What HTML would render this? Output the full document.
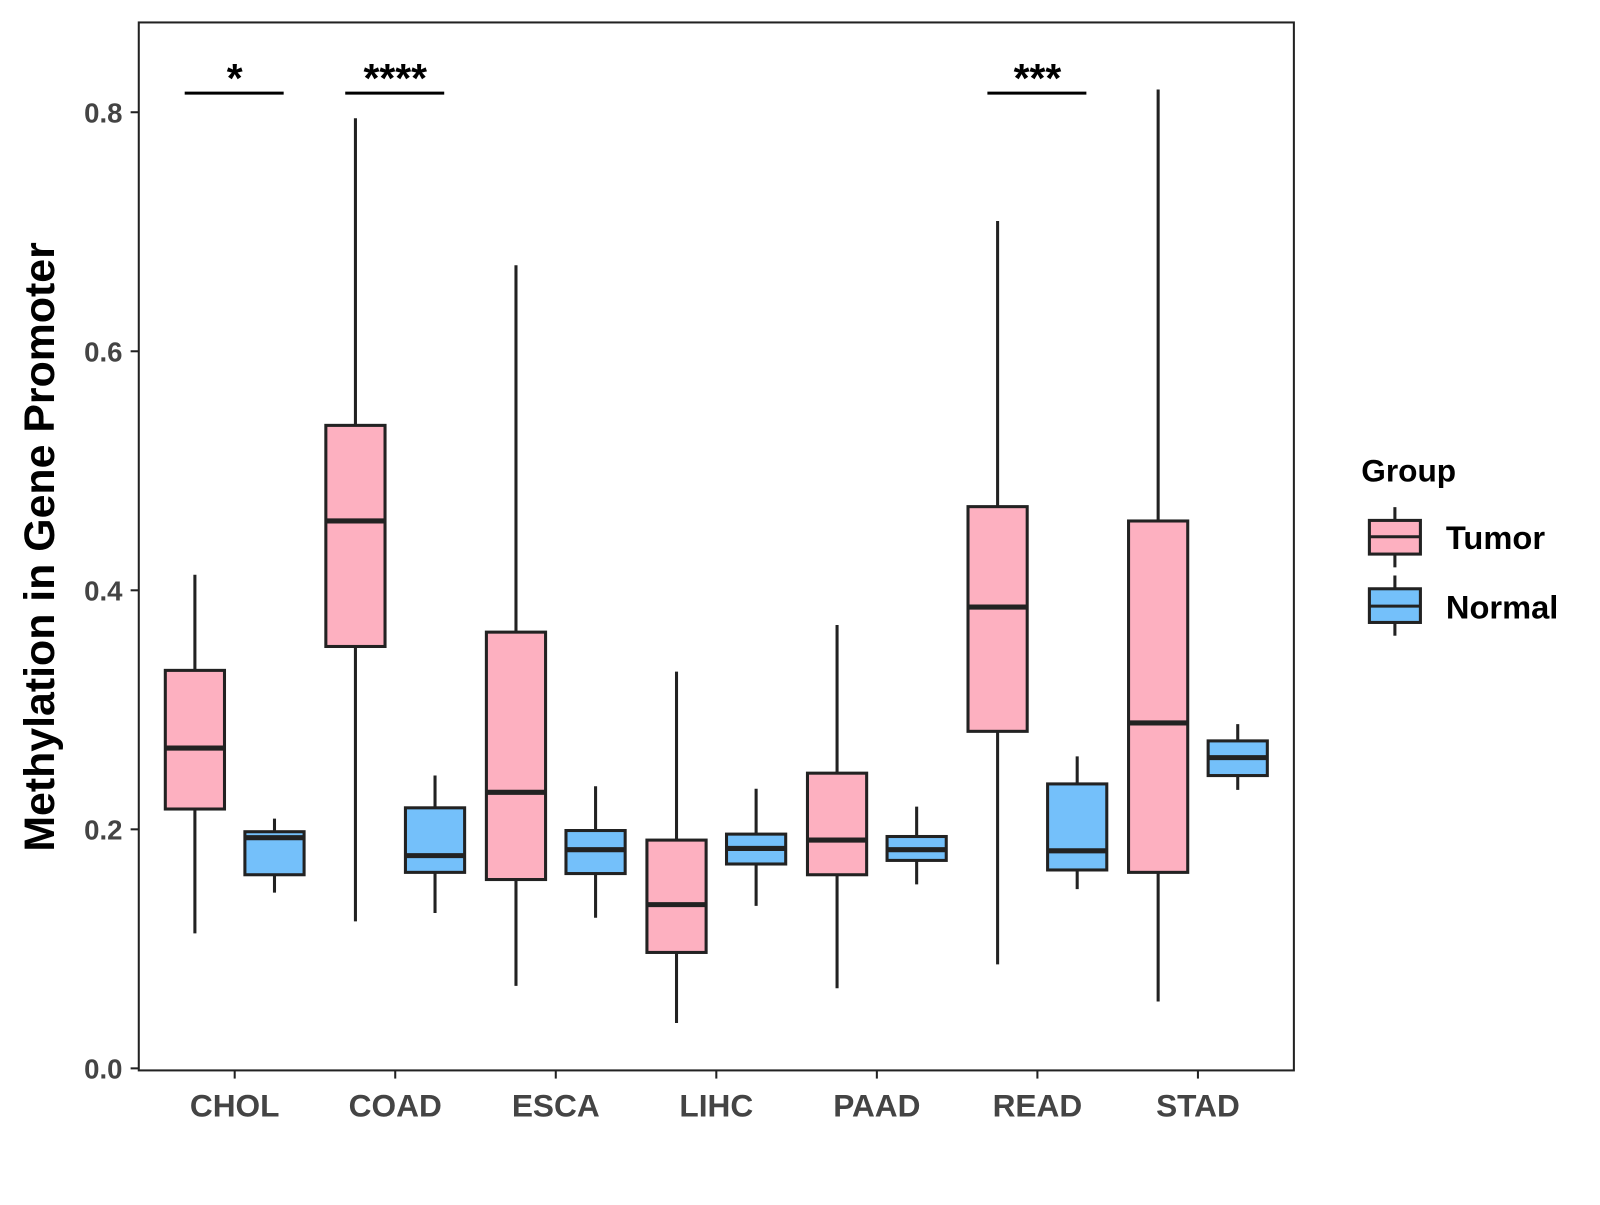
<!DOCTYPE html>
<html><head><meta charset="utf-8"><style>
body{margin:0;background:#fff}
svg text{font-family:"Liberation Sans",Arial,sans-serif;font-weight:bold}
</style></head><body>
<svg id="chart" width="1600" height="1200" viewBox="0 0 1568 1176">
<rect x="136" y="22" width="1132" height="1027" fill="#fff" stroke="#222" stroke-width="2"/>
<g id="axes"></g><g id="boxes"></g><g id="sig"></g>
<text x="53" y="536" font-size="42" text-anchor="middle" transform="rotate(-90 53 536)" fill="#000">Methylation in Gene Promoter</text>
<g>
<text x="1334" y="472" font-size="31" fill="#000">Group</text>
<g>
<line x1="1367" y1="497" x2="1367" y2="556" stroke="#222" stroke-width="3"/>
<rect x="1342" y="510" width="50" height="33" fill="#FDB0C0" stroke="#222" stroke-width="3"/>
<line x1="1342" y1="526" x2="1392" y2="526" stroke="#222" stroke-width="3"/>
<text x="1417" y="538" font-size="32" fill="#000">Tumor</text></g>
<g>
<line x1="1367" y1="564" x2="1367" y2="623" stroke="#222" stroke-width="3"/>
<rect x="1342" y="577" width="50" height="33" fill="#74C0FA" stroke="#222" stroke-width="3"/>
<line x1="1342" y1="594" x2="1392" y2="594" stroke="#222" stroke-width="3"/>
<text x="1417" y="606" font-size="32" fill="#000">Normal</text></g>
</g>
</svg>
<script>
const categories=["CHOL","COAD","ESCA","LIHC","PAAD","READ","STAD"];
const tumorStats=[[0.113,0.217,0.268,0.333,0.413],[0.123,0.353,0.458,0.538,0.795],[0.069,0.158,0.231,0.365,0.672],[0.038,0.097,0.137,0.191,0.332],[0.067,0.162,0.191,0.247,0.371],[0.087,0.282,0.386,0.470,0.709],[0.056,0.164,0.289,0.458,0.819]];
const normalStats=[[0.147,0.162,0.193,0.198,0.209],[0.130,0.164,0.178,0.218,0.245],[0.126,0.163,0.183,0.199,0.236],[0.136,0.171,0.184,0.196,0.234],[0.154,0.174,0.183,0.194,0.219],[0.150,0.166,0.182,0.238,0.261],[0.233,0.245,0.260,0.274,0.288]];
const yTicks=[0,0.2,0.4,0.6,0.8];
const yTickLabels=["0.0","0.2","0.4","0.6","0.8"];
const sigCats=["CHOL","COAD","READ"];
const sigLabels=["*","****","***"];
const sigLevel=0.816;
const NS="http://www.w3.org/2000/svg";
const y=v=>1047-v*1171.25;
const x=i=>230+i*157.33;
function mk(tag,attrs,parent,txt){const e=document.createElementNS(NS,tag);for(const k in attrs)e.setAttribute(k,attrs[k]);if(txt!==undefined)e.textContent=txt;parent.appendChild(e);return e;}
const axes=document.getElementById('axes');
yTicks.forEach((t,i)=>{
 const g=mk('g',{},axes);
 
 
 mk('line',{x1:128,x2:136,y1:y(t),y2:y(t),stroke:'#222','stroke-width':2},g);
 mk('text',{x:120,y:y(t)+10,'font-size':27,'text-anchor':'end',fill:'#444'},g,yTickLabels[i]);
});
categories.forEach((c,i)=>{
 const g=mk('g',{},axes);
 
 
 mk('line',{x1:x(i),x2:x(i),y1:1049,y2:1057,stroke:'#222','stroke-width':2},g);
 mk('text',{x:x(i),y:1094,'font-size':31,'text-anchor':'middle',fill:'#444'},g,c);
});
const boxes=document.getElementById('boxes');
function box(cx,s,fill,name){
 const g=mk('g',{},boxes);
 
 
 mk('line',{x1:cx,x2:cx,y1:y(s[0]),y2:y(s[4]),stroke:'#222','stroke-width':3},g);
 mk('rect',{x:cx-29,y:y(s[3]),width:58,height:y(s[1])-y(s[3]),fill:fill,stroke:'#222','stroke-width':3},g);
 mk('line',{x1:cx-29,x2:cx+29,y1:y(s[2]),y2:y(s[2]),stroke:'#222','stroke-width':5},g);
}
categories.forEach((c,i)=>{
 box(x(i)-39,tumorStats[i],'#FDB0C0','box-tumor-'+c.toLowerCase());
 box(x(i)+39,normalStats[i],'#74C0FA','box-normal-'+c.toLowerCase());
});
const sig=document.getElementById('sig');
sigCats.forEach((c,k)=>{
 const i=categories.indexOf(c);
 const g=mk('g',{},sig);
 
 
 mk('line',{x1:x(i)-49,x2:x(i)+48,y1:y(sigLevel),y2:y(sigLevel),stroke:'#000','stroke-width':3},g);
 mk('text',{x:x(i),y:y(sigLevel)-1,'font-size':40,'text-anchor':'middle',fill:'#000'},g,sigLabels[k]);
});
</script>
</body></html>
